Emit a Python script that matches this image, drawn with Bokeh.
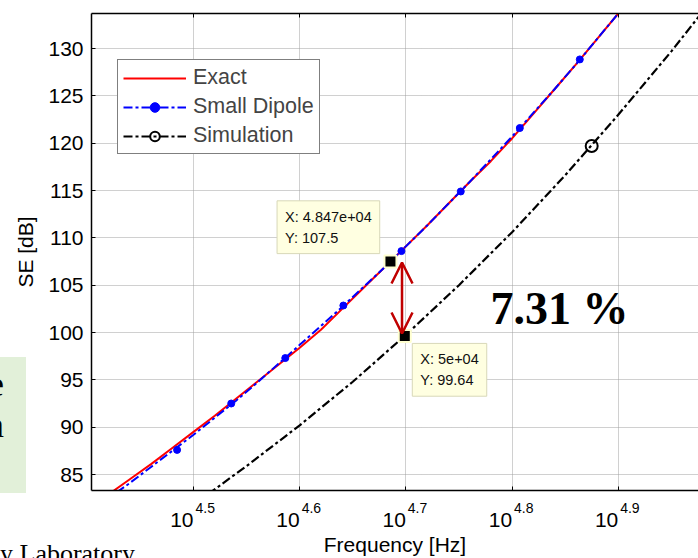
from bokeh.plotting import figure
from bokeh.models import (Range1d, FixedTicker, LogAxis, Label, Legend, LegendItem,
                          Arrow, OpenHead, ColumnDataSource, Div)
from bokeh.layouts import column
from bokeh.embed import file_html
from bokeh.resources import INLINE

# ---------------- data (x as log10 of frequency in Hz, y = SE in dB) ----------------
exact_logf = [4.40, 4.42, 4.44, 4.46, 4.48, 4.50, 4.52, 4.54, 4.56, 4.58, 4.60, 4.62, 4.64,
              4.66, 4.68, 4.70, 4.72, 4.74, 4.76, 4.78, 4.80, 4.82, 4.84, 4.86, 4.88, 4.90, 4.92]
exact_se = [81.3, 82.9, 84.5, 86.1, 87.8, 89.5, 91.2, 93.0, 94.8, 96.6, 98.4, 100.3, 102.5,
            104.7, 106.9, 109.1, 111.3, 113.6, 115.9, 118.1, 120.5, 123.1, 125.7, 128.3, 131.0, 133.7, 136.5]

dipole_logf = exact_logf
dipole_se = [80.9, 82.5, 84.1, 85.8, 87.5, 89.2, 91.0, 92.8, 94.7, 96.7, 98.7, 100.7, 102.7,
             104.8, 106.9, 109.1, 111.3, 113.6, 115.9, 118.3, 120.7, 123.2, 125.7, 128.3, 131.0, 133.7, 136.5]
dipole_mark_logf = [4.4845, 4.5355, 4.5864, 4.6411, 4.6958, 4.7517, 4.8073, 4.8638]
dipole_mark_se = [87.6, 92.5, 97.3, 102.85, 108.6, 114.9, 121.6, 128.85]

sim_logf = [4.50, 4.55, 4.60, 4.65, 4.70, 4.75, 4.80, 4.85, 4.90, 4.95, 5.00]
sim_se = [81.8, 85.9, 90.2, 94.8, 99.75, 105.0, 110.6, 116.6, 123.0, 129.7, 136.8]
sim_mark_logf = [4.875]
sim_mark_se = [119.7]

tip_f = [48470, 50000]
tip_se = [107.5, 99.64]
tip_text = ["X: 4.847e+04\nY: 107.5", "X: 5e+04\nY: 99.64"]

xtick_exp = ["4.5", "4.6", "4.7", "4.8", "4.9"]
ytick_vals = [85, 90, 95, 100, 105, 110, 115, 120, 125, 130]

x_lim_exp = [4.4039, 4.9756]
y_lim = [83.31, 133.70]

arrow_f = 49700
arrow_se = [107.4, 99.9]
diff_text = "7.31 %"

# ---------------- figure ----------------
FONT = "Liberation Sans"
NB = "\u00a0"
p = figure(width=698, height=558, x_axis_type="log",
           x_range=Range1d(10 ** x_lim_exp[0], 10 ** x_lim_exp[1]),
           y_range=Range1d(y_lim[0], y_lim[1]),
           output_backend="svg", toolbar_location=None,
           min_border_left=91, min_border_right=0, min_border_top=13, min_border_bottom=68)
p.background_fill_color = "white"
p.border_fill_color = "white"
p.outline_line_color = None

xticks = [10 ** float(e) for e in xtick_exp]
xt = FixedTicker(ticks=xticks)

# bottom axis: box line + exponent part of the tick labels
ax_a = p.below[0]
ax_a.ticker = xt
ax_a.major_label_overrides = {t: NB * 6 + e for t, e in zip(xticks, xtick_exp)}
ax_a.major_label_text_font = FONT
ax_a.major_label_text_font_size = "14px"
ax_a.major_label_text_color = "black"
ax_a.major_label_standoff = 9

# second bottom axis: base "10" of the tick labels + axis title
ax_b = LogAxis(ticker=xt)
p.add_layout(ax_b, "below")
ax_b.major_label_overrides = {t: "10" + NB * 4 for t in xticks}
ax_b.major_label_text_font = FONT
ax_b.major_label_text_font_size = "21px"
ax_b.major_label_text_color = "black"
ax_b.major_label_standoff = -17
ax_b.axis_line_color = None
ax_b.major_tick_line_color = None
ax_b.minor_tick_line_color = None
ax_b.axis_label = "Frequency [Hz]"
ax_b.axis_label_text_font = FONT
ax_b.axis_label_text_font_size = "21px"
ax_b.axis_label_text_font_style = "normal"
ax_b.axis_label_text_color = "black"
ax_b.axis_label_standoff = -1

# top axis: only the box line and inward ticks, no labels drawn
top_axis = LogAxis(ticker=xt)
p.add_layout(top_axis, "above")
top_axis.major_label_text_font_size = "0px"
top_axis.major_label_text_color = None
top_axis.major_label_standoff = 0

for ax in (ax_a, top_axis):
    ax.major_tick_in = 4
    ax.major_tick_out = 0
    ax.minor_tick_line_color = None
    ax.axis_line_color = "black"
    ax.axis_line_width = 1.5
    ax.major_tick_line_color = "black"

p.yaxis.ticker = FixedTicker(ticks=ytick_vals)
p.yaxis.major_tick_in = 4
p.yaxis.major_tick_out = 0
p.yaxis.minor_tick_line_color = None
p.yaxis.major_label_standoff = 8
p.yaxis.major_label_text_font = FONT
p.yaxis.major_label_text_font_size = "21px"
p.yaxis.major_label_text_color = "black"
p.yaxis.axis_label = "SE [dB]"
p.yaxis.axis_label_text_font = FONT
p.yaxis.axis_label_text_font_size = "21px"
p.yaxis.axis_label_text_font_style = "normal"
p.yaxis.axis_label_text_color = "black"
p.yaxis.axis_label_standoff = 8
p.yaxis.axis_line_color = "black"
p.yaxis.axis_line_width = 1.5

for g in (p.xgrid, p.ygrid):
    g.grid_line_color = "#a0a0a0"
    g.grid_line_dash = "1 1"
    g.grid_line_width = 1
p.xgrid.ticker = xt

# ---------------- series ----------------
src_exact = ColumnDataSource(dict(f=[10 ** v for v in exact_logf], se=exact_se))
src_dip = ColumnDataSource(dict(f=[10 ** v for v in dipole_logf], se=dipole_se))
src_dip_m = ColumnDataSource(dict(f=[10 ** v for v in dipole_mark_logf], se=dipole_mark_se))
src_sim = ColumnDataSource(dict(f=[10 ** v for v in sim_logf], se=sim_se))
src_sim_m = ColumnDataSource(dict(f=[10 ** v for v in sim_mark_logf], se=sim_mark_se))

DASHDOT = "9 3 3 3"
r_sim = p.line("f", "se", source=src_sim, line_color="black", line_width=2.2, line_dash=DASHDOT)
r_sim_m = p.scatter("f", "se", source=src_sim_m, marker="circle", size=12,
                    fill_color=None, line_color="black", line_width=2)
r_exact = p.line("f", "se", source=src_exact, line_color="#ff0000", line_width=2)
r_dip = p.line("f", "se", source=src_dip, line_color="#0000ff", line_width=2, line_dash=DASHDOT)
r_dip_m = p.scatter("f", "se", source=src_dip_m, marker="circle", size=7,
                    fill_color="#0000ff", line_color="#0000ff")

# data tips
src_tip = ColumnDataSource(dict(f=tip_f, se=tip_se))
p.scatter("f", "se", source=src_tip, marker="square", size=12, fill_color="black",
          line_color="#ffffd0", line_width=2)

tip_offsets = [(-113.4, 60.7), (7.5, -7.5)]
for (fx, sy, txt), (dx, dy) in zip(zip(tip_f, tip_se, tip_text), tip_offsets):
    p.add_layout(Label(x=fx, y=sy, x_offset=dx, y_offset=dy, text=txt, anchor="top_left",
                       text_font=FONT, text_font_size="14.5px", text_color="#111111",
                       text_line_height=1.3, padding=8,
                       background_fill_color="#ffffe1", border_line_color="#d8d8b8"))

# arrow between the tips
head = dict(size=21, line_color="#c00000", line_width=2.5)
p.add_layout(Arrow(x_start=arrow_f, y_start=arrow_se[0], x_end=arrow_f, y_end=arrow_se[1],
                   start=OpenHead(**head), end=OpenHead(**head),
                   line_color="#c00000", line_width=2.5))

p.add_layout(Label(x=399, y=182, x_units="screen", y_units="screen", text=diff_text,
                   text_font="Liberation Serif", text_font_style="bold", text_font_size="46px",
                   text_color="black", text_baseline="middle"))

# legend
legend = Legend(items=[LegendItem(label="Exact", renderers=[r_exact]),
                       LegendItem(label="Small Dipole", renderers=[r_dip, r_dip_m]),
                       LegendItem(label="Simulation", renderers=[r_sim, r_sim_m])],
                location=(26, 336), margin=0, padding=5, spacing=4,
                label_height=24, glyph_height=24, glyph_width=63, label_standoff=7,
                label_text_font=FONT, label_text_font_size="21.5px",
                border_line_color="black", border_line_width=1,
                background_fill_color="white", background_fill_alpha=1)
p.add_layout(legend)

# fragments of the surrounding slide (outside the plot frame)
SERIF = "font-family:'Liberation Serif';color:black;white-space:nowrap;position:absolute;"
frag_html = (
    '<div style="position:absolute;left:0px;top:357px;width:26px;height:136px;background:#e2f0d9;"></div>'
    f'<div style="{SERIF}right:694px;top:366px;font-size:36px;line-height:36px;">e</div>'
    f'<div style="{SERIF}right:694px;top:407px;font-size:36px;line-height:36px;">n</div>'
    f'<div style="{SERIF}left:0px;top:541px;font-size:26px;line-height:1;">y Laboratory</div>'
)
frag = Div(text=frag_html, width=698, height=558, margin=0,
           styles={"position": "absolute", "left": "0px", "top": "0px",
                   "pointer-events": "none", "overflow": "hidden"})

layout = column(p, frag)
open("out.html", "w").write(file_html(layout, INLINE))
